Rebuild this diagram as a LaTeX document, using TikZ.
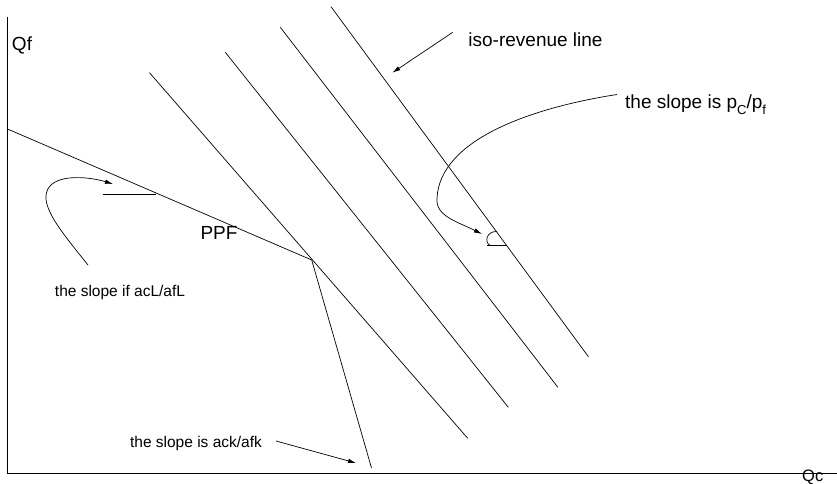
\documentclass[tikz,border=0pt]{standalone}
\usepackage{fontspec}
\setmainfont{Liberation Sans}
\usetikzlibrary{arrows.meta}
\begin{document}
\begin{tikzpicture}[x=1pt,y=-1pt,
  axis/.style={line width=1pt},
  thinline/.style={line width=0.7pt},
  pointer/.style={line width=0.7pt,-{Latex[length=8pt,width=4.5pt]}},
  biglabel/.style={inner sep=0pt,font=\fontsize{19}{19}\selectfont},
  smalllabel/.style={inner sep=0pt,font=\fontsize{15.5}{15.5}\selectfont}]
\useasboundingbox (0,0) rectangle (837,484);
% axes
\coordinate (yt) at (7.5,17);
\coordinate (o) at (7.5,473);
\coordinate (xr) at (837,473);
\draw[axis] (yt) -- (o) -- (xr);
\node[biglabel] (qf) at (22,45) {Qf};
\node[inner sep=0pt,anchor=base west,font=\fontsize{16.5}{16.5}\selectfont] (qc) at (802,481.5) {Qc};
% PPF
\coordinate (ppfa) at (7.5,129);
\coordinate (kink) at (311.7,260);
\coordinate (ppfb) at (371.5,468);
\draw[thinline] (ppfa) -- (kink) -- (ppfb);
\node[biglabel] (ppf) at (219,233) {PPF};
% iso-revenue lines
\coordinate (l1a) at (149.5,72.7);  \coordinate (l1b) at (467.7,438.3);
\coordinate (l2a) at (225.3,52.3);  \coordinate (l2b) at (508.3,407.3);
\coordinate (l3a) at (280.3,27.3);  \coordinate (l3b) at (557.9,387.3);
\coordinate (l4a) at (331,6.7);     \coordinate (l4b) at (588.4,356.7);
\draw[thinline] (l1a) -- (l1b);
\draw[thinline] (l2a) -- (l2b);
\draw[thinline] (l3a) -- (l3b);
\draw[thinline] (l4a) -- (l4b);
% iso-revenue label
\node[biglabel] (iso) at (535.5,40) {iso-revenue line};
\coordinate (isofrom) at (452.7,32.3);
\coordinate (isoto) at (392.4,72.7);
\draw[pointer] (isofrom) -- (isoto);
% slope pc/pf
\node[biglabel,anchor=base west] (pcpf) at (625,108.5)
  {the slope is p\raisebox{-6pt}{\fontsize{13}{13}\selectfont C}/p\raisebox{-6pt}{\fontsize{13}{13}\selectfont f}};
\coordinate (pcs) at (617,94.5);
\coordinate (pcm) at (437,198);
\coordinate (pct) at (482,234);
\draw[pointer] (pcs) .. controls (530,108) and (440,140) .. (pcm)
  .. controls (435,216) and (458,222) .. (pct);
% angle mark at right
\coordinate (ara) at (497,231.5);
\coordinate (arb) at (490.5,245.5);
\coordinate (hra) at (487,245.5);
\coordinate (hrb) at (507,245.5);
\draw[thinline] (ara) .. controls (486,231) and (484,243) .. (arb);
\draw[thinline] (hra) -- (hrb);
% left slope acL/afL
\node[smalllabel] (acl) at (120,292) {the slope if acL/afL};
\coordinate (cls) at (88,265);
\coordinate (clm) at (50,186);
\coordinate (clt) at (113,184);
\draw[pointer] (cls) .. controls (60,230) and (36,202) .. (clm)
  .. controls (61,174) and (90,177) .. (clt);
\coordinate (hla) at (103.3,194.3);
\coordinate (hlb) at (156,194.3);
\draw[thinline] (hla) -- (hlb);
% bottom slope ack/afk
\node[smalllabel] (ack) at (196,443) {the slope is ack/afk};
\coordinate (ackf) at (276,441);
\coordinate (ackt) at (356,463);
\draw[pointer] (ackf) -- (ackt);
\end{tikzpicture}
\end{document}
